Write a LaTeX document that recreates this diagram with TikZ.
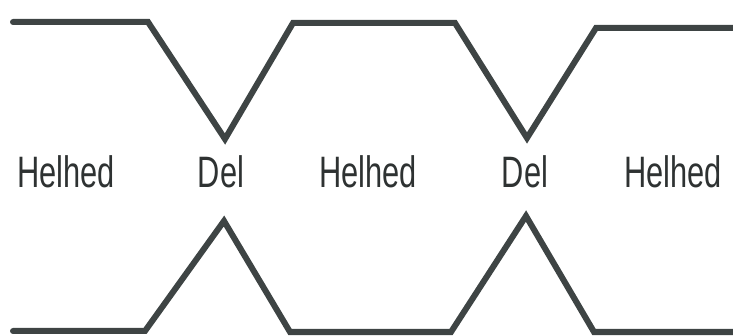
\documentclass[tikz,border=0pt]{standalone}
\usepackage{fontspec}
\setmainfont{Liberation Sans}
\usepackage{graphicx}
\usepackage{tikz}
\definecolor{inkgray}{HTML}{3E4444}
\definecolor{textgray}{HTML}{2E3232}
\tikzset{
  wave/.style={draw=inkgray, line width=6pt, line cap=round, line join=miter},
  part/.style={anchor=base, inner sep=0pt, text=textgray, font=\fontsize{44}{48}\selectfont}
}
\begin{document}
\begin{tikzpicture}[x=1pt,y=-1pt]
  \useasboundingbox (0,0) rectangle (733,336);

  % upper edge
  \draw[wave] (13,22) -- (148,22) -- (225,139) -- (293,23) -- (455,23) -- (527,138) -- (596,28) -- (745,28);
  % lower edge
  \draw[wave] (13,331) -- (145,331) -- (224,221) -- (290,332) -- (451,332) -- (526,216) -- (594,332) -- (745,332);

  \foreach \x/\word/\name in {66/Helhed/whole1,221/Del/part1,368/Helhed/whole2,525/Del/part2,673/Helhed/whole3} {
    \node[part] (\name) at (\x,188) {\scalebox{0.7}[1]{\word}};
  }
\end{tikzpicture}
\end{document}
